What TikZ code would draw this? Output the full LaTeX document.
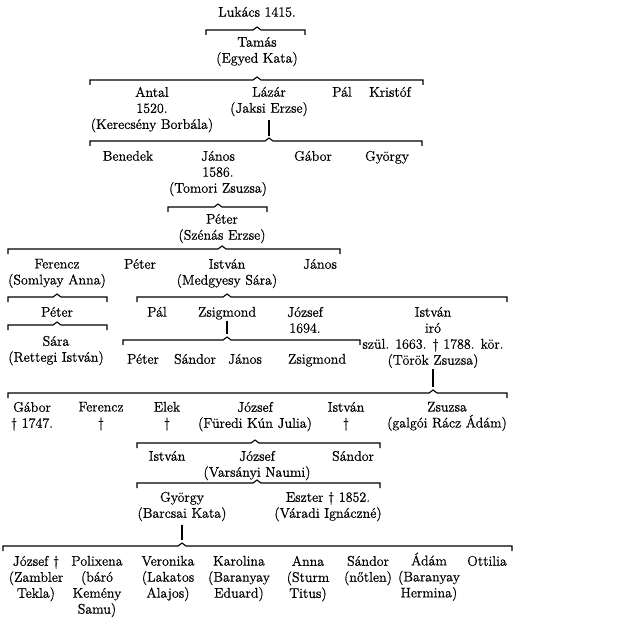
\documentclass[tikz,border=0pt]{standalone}
\usepackage{fontspec}
\setmainfont{lmroman12-regular.otf}[FakeBold=0.7]
\usepackage{tikz}
\usetikzlibrary{calc}

\tikzset{
  nev/.style={anchor=north, align=center, inner sep=0pt, yshift=6.3pt,
    font=\fontsize{14}{16}\selectfont},
  brk/.style={line width=1.1pt}
}
% bracket under a couple: parent node, left x, right x, height
\newcommand{\csalad}[4]{%
  \draw[brk] (#2,#4+5) -- (#2,#4) -- ($(#1 |- 0,#4)+(-4,0)$) -- ++(4,-3)
    -- ++(4,3) -- (#3,#4) -- (#3,#4+5);}

\begin{document}
\begin{tikzpicture}[x=1pt,y=-1pt]
\useasboundingbox[fill=white] (0,0) rectangle (624,623);
\node[nev] (lukacs) at (257,13) {Lukács 1415.};
\csalad{lukacs}{206}{305}{30}
\node[nev] (tamas) at (257,43) {Tamás\\(Egyed Kata)};
\csalad{tamas}{90}{423}{80}
\node[nev] (antal) at (152,93) {Antal\\1520.\\(Kerecsény Borbála)};
\node[nev] (lazar) at (269,93) {Lázár\\(Jaksi Erzse)};
\node[nev] (pal) at (342,93) {Pál};
\node[nev] (kristof) at (390,93) {Kristóf};
\csalad{lazar}{90}{422}{141}
\draw[brk] ([yshift=-4pt]lazar.south) -- (lazar |- 0,136);
\node[nev] (benedek) at (128,157) {Benedek};
\node[nev] (janos) at (218,157) {János\\1586.\\(Tomori Zsuzsa)};
\node[nev] (gabor) at (313,157) {Gábor};
\node[nev] (gyorgy) at (387,157) {György};
\csalad{janos}{168}{267}{207}
\node[nev] (peter) at (222,220) {Péter\\(Szénás Erzse)};
\csalad{peter}{8}{340}{249}
\node[nev] (ferencz) at (57,265) {Ferencz\\(Somlyay Anna)};
\node[nev] (peter2) at (140,265) {Péter};
\node[nev] (istvan) at (227,265) {István\\(Medgyesy Sára)};
\node[nev] (janos2) at (320,265) {János};
\csalad{ferencz}{8}{107}{297}
\csalad{istvan}{137}{507}{297}
% fourth row
\node[nev] (peter3) at (57,313) {Péter};
\csalad{peter3}{8}{107}{325}
\node[nev] (sara) at (56,342) {Sára\\(Rettegi István)};
\node[nev] (pal2) at (157,313) {Pál};
\node[nev] (zsigmond) at (227,313) {Zsigmond};
\node[nev] (jozsef) at (305,313) {József\\1694.};
\node[nev] (istvan2) at (433,313) {István\\iró\\szül. 1663. \textdagger\ 1788. kör.\\(Török Zsuzsa)};
\draw[brk] ([yshift=-1pt]zsigmond.south) -- (zsigmond |- 0,334);
\csalad{zsigmond}{123}{360}{340}
\node[nev] (peter4) at (143,360) {Péter};
\node[nev] (sandor) at (195,360) {Sándor};
\node[nev] (janos3) at (245,360) {János};
\node[nev] (zsigmond2) at (317,360) {Zsigmond};
\draw[brk] ([yshift=-1pt]istvan2.south) -- (istvan2 |- 0,387);
\csalad{istvan2}{8}{507}{393}
\node[nev] (gabor2) at (32,408) {Gábor\\\textdagger\ 1747.};
\node[nev] (ferencz2) at (101,408) {Ferencz\\\textdagger};
\node[nev] (elek) at (167,408) {Elek\\\textdagger};
\node[nev] (jozsef2) at (255,408) {József\\(Füredi Kún Julia)};
\node[nev] (istvan3) at (346,408) {István\\\textdagger};
\node[nev] (zsuzsa) at (447,408) {Zsuzsa\\(galgói Rácz Ádám)};
\csalad{jozsef2}{137}{380}{443}
\node[nev] (istvan4) at (167,457) {István};
\node[nev] (jozsef3) at (257,457) {József\\(Varsányi Naumi)};
\node[nev] (sandor2) at (353,457) {Sándor};
\csalad{jozsef3}{137}{380}{483}
\node[nev] (gyorgy2) at (182,498) {György\\(Barcsai Kata)};
\node[nev] (eszter) at (328,498) {Eszter \textdagger\ 1852.\\(Váradi Ignáczné)};
\draw[brk] ([yshift=-4pt]gyorgy2.south) -- (gyorgy2 |- 0,540);
\csalad{gyorgy2}{3}{512}{546}
% last row
\node[nev] (jozsef4) at (36,562) {József \textdagger\\(Zambler\\Tekla)};
\node[nev] (polixena) at (97,562) {Polixena\\(báró\\Kemény\\Samu)};
\node[nev] (veronika) at (168,562) {Veronika\\(Lakatos\\Alajos)};
\node[nev] (karolina) at (239,562) {Karolina\\(Baranyay\\Eduard)};
\node[nev] (anna) at (308,562) {Anna\\(Sturm\\Titus)};
\node[nev] (sandor3) at (368,562) {Sándor\\(nőtlen)};
\node[nev, yshift=3.2pt] (adam) at (429,562) {Ádám\\(Baranyay\\Hermina)};
\node[nev] (ottilia) at (487,562) {Ottilia};
\end{tikzpicture}
\end{document}
